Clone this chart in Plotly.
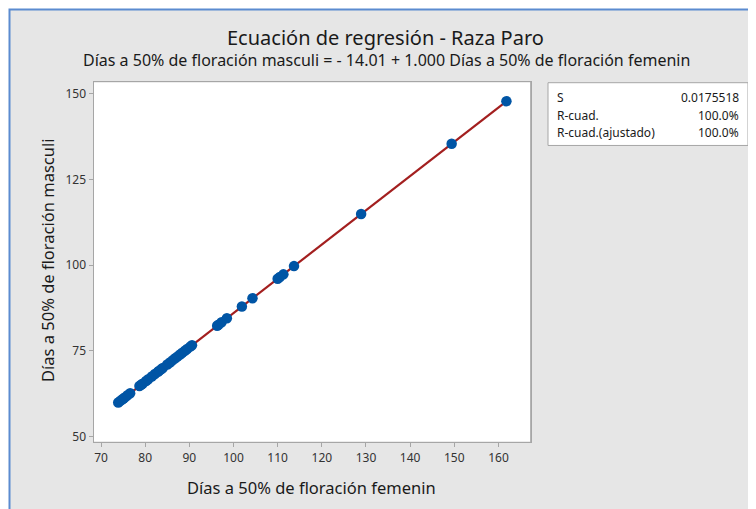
import plotly.graph_objects as go

W, H = 756, 509
OFF = 8  # browser body margin

# Data
dias_femenino = [73.9, 74.3, 74.7, 75.1, 75.4, 76.0, 76.6, 78.7, 79.1, 79.4, 80.2, 80.7,
                 81.5, 82.2, 82.9, 83.2, 83.7, 84.0, 85.0, 85.6, 86.2, 86.8, 87.3, 87.9,
                 88.4, 89.0, 89.5, 90.2, 90.6, 96.3, 96.6, 97.3, 98.5, 101.9, 104.3,
                 110.0, 110.5, 111.3, 113.7, 128.9, 149.4, 161.8]
dias_masculino = [59.9, 60.3, 60.7, 61.1, 61.4, 62.0, 62.6, 64.7, 65.1, 65.4, 66.2, 66.7,
                  67.5, 68.2, 68.9, 69.2, 69.7, 70.0, 71.0, 71.6, 72.2, 72.8, 73.3, 73.9,
                  74.4, 75.0, 75.5, 76.2, 76.6, 82.3, 82.6, 83.3, 84.5, 87.9, 90.3,
                  96.0, 96.5, 97.3, 99.7, 114.9, 135.4, 147.8]
intercepto = -14.01
pendiente = 1.000
x_ticks = [70, 80, 90, 100, 110, 120, 130, 140, 150, 160]
y_ticks = [50, 75, 100, 125, 150]
stats_labels = ["S", "R-cuad.", "R-cuad.(ajustado)"]
stats_values = ["0.0175518", "100.0%", "100.0%"]

FONT = "Noto Sans"

def px(x):
    return (x - OFF) / W

def py(y):
    return 1 - (y - OFF) / H

# plot area in window pixels
L, R, T, B = 93.5, 530.7, 82, 444

xmin, xmax = min(dias_femenino), max(dias_femenino)
line_x = [xmin, xmax]
line_y = [intercepto + pendiente * v for v in line_x]

fig = go.Figure()
fig.add_trace(go.Scatter(x=line_x, y=line_y, mode="lines",
                         line=dict(color="#a31f1f", width=2.2), showlegend=False,
                         hoverinfo="skip"))
fig.add_trace(go.Scatter(x=dias_femenino, y=dias_masculino, mode="markers",
                         marker=dict(color="#0055a5", size=10.5, line=dict(width=0)),
                         showlegend=False))

axis_common = dict(showgrid=False, zeroline=False, showline=True, mirror=True,
                   linecolor="#a6a6a6", linewidth=1, ticks="outside", ticklen=4,
                   tickcolor="#a6a6a6", tickfont=dict(family=FONT, size=12, color="#333333"))

fig.update_layout(
    width=W, height=H,
    margin=dict(l=0, r=0, t=0, b=0),
    paper_bgcolor="white",
    plot_bgcolor="white",
    font=dict(family=FONT, color="#222222"),
    xaxis=dict(domain=[px(L), px(R)], range=[68.3, 167.3], tickvals=x_ticks,
               **axis_common),
    yaxis=dict(domain=[py(B), py(T)], range=[48.3, 153.5], tickvals=y_ticks,
               **axis_common),
    shapes=[
        dict(type="rect", xref="paper", yref="paper", x0=px(9.5), x1=1.05,
             y0=-0.05, y1=py(9.5), fillcolor="#e6e6e6",
             line=dict(color="#5b8bd0", width=2), layer="below"),
        dict(type="rect", xref="paper", yref="paper", x0=px(L), x1=px(R),
             y0=py(B), y1=py(T), fillcolor="white",
             line=dict(color="#a6a6a6", width=1), layer="below"),
        dict(type="rect", xref="paper", yref="paper", x0=px(548), x1=px(748),
             y0=py(146), y1=py(83), fillcolor="white",
             line=dict(color="#a6a6a6", width=1), layer="below"),
    ],
)

annotations = [
    dict(text="Ecuación de regresión - Raza Paro", x=px(385), y=py(38),
         font=dict(family=FONT, size=20, color="#1a1a1a")),
    dict(text="Días a 50% de floración masculi = - 14.01 + 1.000 Días a 50% de floración femenin",
         x=px(387), y=py(60), font=dict(family=FONT, size=16, color="#1a1a1a")),
    dict(text="Días a 50% de floración femenin", x=px(311), y=py(489),
         font=dict(family=FONT, size=16.5, color="#1a1a1a")),
    dict(text="Días a 50% de floración masculi", x=px(47), y=py(262), textangle=-90,
         font=dict(family=FONT, size=16.5, color="#1a1a1a")),
]
row_y = [98, 116, 133]
for lab, val, ry in zip(stats_labels, stats_values, row_y):
    annotations.append(dict(text=lab, x=px(555), y=py(ry), xanchor="left",
                            font=dict(family=FONT, size=12, color="#1a1a1a")))
    annotations.append(dict(text=val, x=px(741), y=py(ry), xanchor="right",
                            font=dict(family=FONT, size=12, color="#1a1a1a")))
for a in annotations:
    a.setdefault("xanchor", "center")
    a.update(xref="paper", yref="paper", yanchor="middle", showarrow=False)
fig.update_layout(annotations=annotations)

fig.write_html("out.html")
